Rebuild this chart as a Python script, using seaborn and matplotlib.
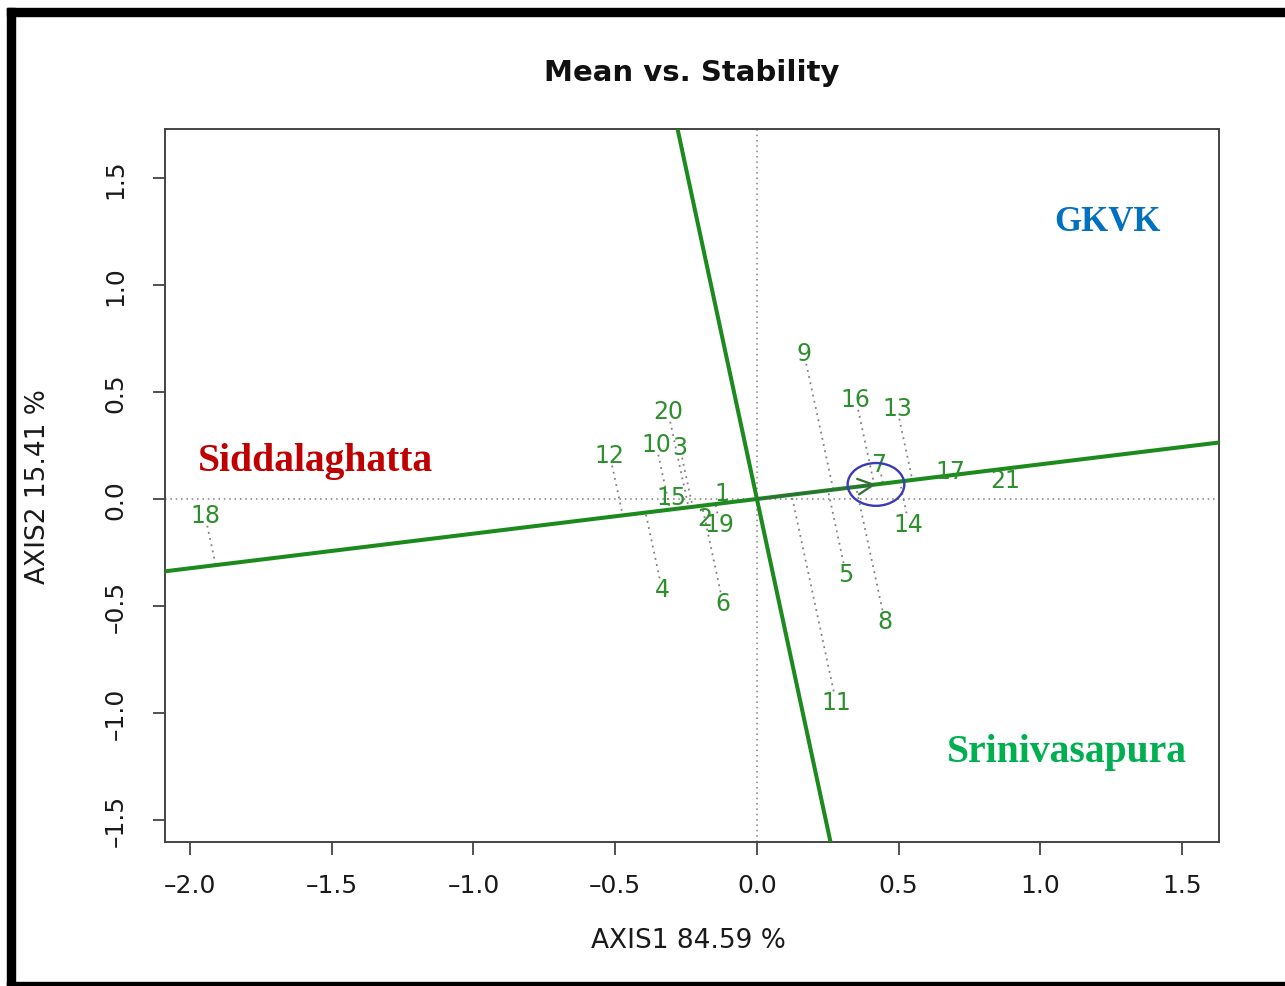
import numpy as np
import pandas as pd
import matplotlib
matplotlib.use("Agg")
import matplotlib.pyplot as plt
import seaborn as sns
from matplotlib.patches import Ellipse, Rectangle

# Genotype scores on the first two GGE axes
genotypes = [str(i) for i in range(1, 22)]
axis1 = [-0.123, -0.183, -0.272, -0.335, 0.314, -0.120, 0.430, 0.451, 0.166, -0.356,
         0.279, -0.519, 0.494, 0.536, -0.300, 0.349, 0.681, -1.947, -0.131, -0.314, 0.875]
axis2 = [0.028, -0.089, 0.243, -0.421, -0.350, -0.486, 0.164, -0.570, 0.682, 0.257,
         -0.949, 0.206, 0.425, -0.117, 0.009, 0.467, 0.131, -0.075, -0.117, 0.411, 0.089]

# Average environment coordinate (defines the average-environment axis)
env_mean = (0.42, 0.068)

# Environment names and where they are written
env_names = ["Siddalaghatta", "GKVK", "Srinivasapura"]
env_label_xy = [(-1.556, 0.182), (1.238, 1.299), (1.093, -1.178)]
env_colors = ["#C00000", "#0070C0", "#00B050"]
env_sizes = [28.5, 25, 28.5]

x_ticks = [-2.0, -1.5, -1.0, -0.5, 0.0, 0.5, 1.0, 1.5]
y_ticks = [-1.5, -1.0, -0.5, 0.0, 0.5, 1.0, 1.5]
title = "Mean vs. Stability"
x_label = "AXIS1 84.59 %"
y_label = "AXIS2 15.41 %"

sns.set_theme(style="white")
plt.rcParams["font.family"] = ["DejaVu Sans"]


def tick_text(v):
    s = f"{abs(v):.1f}"
    return "\u2013" + s if v < 0 else s


W, H = 1285, 987
fig = plt.figure(figsize=(W / 100, H / 100), dpi=100)
fig.patch.set_facecolor("white")
ax = fig.add_axes([165 / W, 1 - 843 / H, (1219 - 165) / W, (843 - 130) / H])
ax.set_xlim(-2.088, 1.630)
ax.set_ylim(-1.603, 1.729)

green = "#1c8a1c"
label_green = "#2e8f2e"
dot_gray = "#808080"
dotted = (0, (1, 2.5))

# Reference lines through the origin
ax.axhline(0, color=dot_gray, lw=1.1, ls=dotted, zorder=1)
ax.axvline(0, color=dot_gray, lw=1.1, ls=dotted, zorder=1)

# Average-environment axis and its perpendicular
slope = env_mean[1] / env_mean[0]
ax.axline((0, 0), slope=slope, color=green, lw=2.9, zorder=3)
ax.axline((0, 0), slope=-1 / slope, color=green, lw=2.9, zorder=3)

# Projections of each genotype onto the average-environment axis
g = pd.DataFrame({"genotype": genotypes, "x": axis1, "y": axis2})
u = np.array(env_mean) / np.hypot(*env_mean)
t = g["x"] * u[0] + g["y"] * u[1]
g["px"] = t * u[0]
g["py"] = t * u[1]

# Stop each projection line just short of its label
fig.canvas.draw()
trans = ax.transData
inv = trans.inverted()
rows = []
gap = 11.0
for _, r in g.iterrows():
    p = trans.transform((r["x"], r["y"]))
    q = trans.transform((r["px"], r["py"]))
    d = q - p
    L = np.hypot(*d)
    if L <= gap + 1:
        continue
    start = p + d / L * gap
    s = inv.transform(start)
    rows.append({"genotype": r["genotype"], "x": s[0], "y": s[1], "k": 0})
    rows.append({"genotype": r["genotype"], "x": r["px"], "y": r["py"], "k": 1})
seg = pd.DataFrame(rows)
sns.lineplot(data=seg, x="x", y="y", units="genotype", estimator=None, sort=False,
             color=dot_gray, lw=1.3, linestyle=dotted, ax=ax, zorder=2, legend=False)

# Genotype labels
for _, r in g.iterrows():
    ax.text(r["x"], r["y"], r["genotype"], color=label_green, fontsize=17,
            ha="center", va="center", zorder=4)

# Arrow to the average environment and its circle
ax.annotate("", xy=env_mean, xytext=(0, 0),
            arrowprops=dict(arrowstyle="->", color="#2f6f3a", lw=1.6,
                            mutation_scale=28, shrinkA=0, shrinkB=0), zorder=5)
ax.add_patch(Ellipse(env_mean, 0.2, 0.2, fill=False, edgecolor="#3b3bb5", lw=1.7, zorder=5))

# Environment names
for name, (ex, ey), c, fs in zip(env_names, env_label_xy, env_colors, env_sizes):
    ax.text(ex, ey, name, color=c, fontsize=fs, fontweight="bold",
            family=["Liberation Serif", "DejaVu Serif"], ha="center", va="center", zorder=6)

# Axes styling
ax.set_xticks(x_ticks)
ax.set_yticks(y_ticks)
ax.set_xticklabels([tick_text(v) for v in x_ticks])
ax.set_yticklabels([tick_text(v) for v in y_ticks], rotation=90, va="center")
ax.tick_params(axis="both", direction="out", length=9, width=1.2, color="#333333",
               labelsize=18, labelcolor="#1a1a1a", bottom=True, left=True)
ax.tick_params(axis="x", pad=13)
ax.tick_params(axis="y", pad=18)
for sp in ax.spines.values():
    sp.set_color("#444444")
    sp.set_linewidth(1.4)
ax.set_xlabel("")
ax.set_ylabel("")
ax.grid(False)

fig.text(688 / W, 1 - 941 / H, x_label, ha="center", va="center", fontsize=19, color="#1a1a1a")
fig.text(38 / W, 1 - 487 / H, y_label, ha="center", va="center", rotation=90,
         fontsize=19, color="#1a1a1a")
fig.text(692 / W, 1 - 73 / H, title, ha="center", va="center", fontsize=21,
         fontweight="bold", color="#111111")

# Black frame along the top, left and bottom edges
fig.patches.append(Rectangle((7 / W, 1 - 17 / H), 1, 8 / H, transform=fig.transFigure,
                             color="black", zorder=10))
fig.patches.append(Rectangle((7 / W, 0), 8 / W, 1 - 9 / H, transform=fig.transFigure,
                             color="black", zorder=10))
fig.patches.append(Rectangle((7 / W, 0), 1, 4 / H, transform=fig.transFigure,
                             color="black", zorder=10))

fig.savefig("out.png", dpi=100)
